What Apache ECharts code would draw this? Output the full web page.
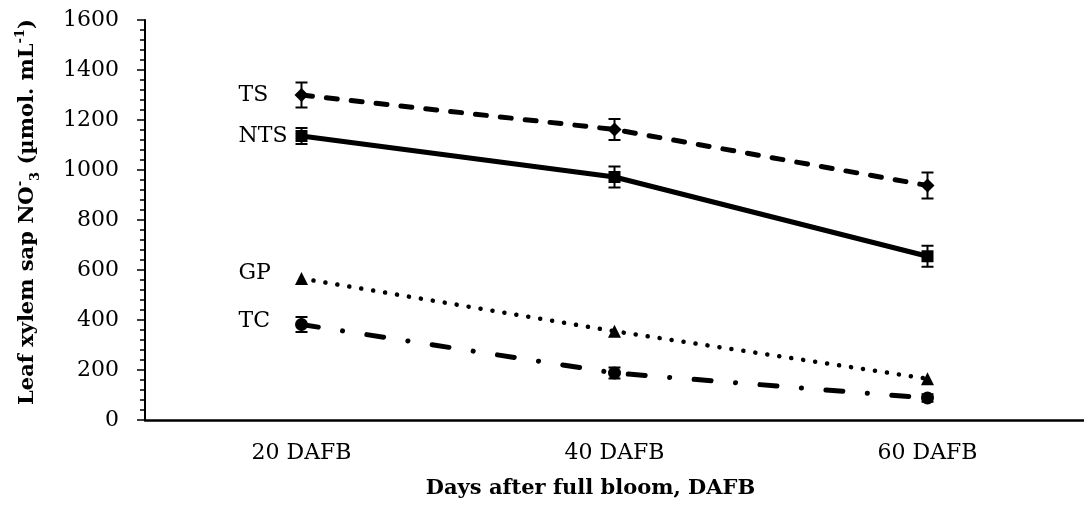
<!DOCTYPE html>
<html>
<head>
<meta charset="utf-8">
<script src="https://cdn.jsdelivr.net/npm/echarts@6/dist/echarts.min.js"></script>
<style>html,body{margin:0;padding:0;background:#fff;}#c{width:1084px;height:506px;}</style>
</head>
<body>
<div id="c"></div>
<script>
var categories = ['20 DAFB', '40 DAFB', '60 DAFB'];
var yTicks = [0, 200, 400, 600, 800, 1000, 1200, 1400, 1600];
var seriesNames = ['TS', 'NTS', 'GP', 'TC'];
var tsValues = [1300, 1162, 938];
var tsErrors = [50, 42, 52];
var ntsValues = [1136, 972, 655];
var ntsErrors = [32, 42, 42];
var gpValues = [566, 355, 165];
var tcValues = [382, 188, 88];
var tcErrors = [30, 22, 15];

var FONT = 'DejaVu Serif';
var chart = echarts.init(document.getElementById('c'), null, {renderer: 'canvas'});

function errSeries(vals, errs) {
  return {
    type: 'custom',
    silent: true,
    z: 5,
    data: vals.map(function (v, i) { return [i, v - errs[i], v + errs[i]]; }),
    renderItem: function (params, api) {
      var lo = api.coord([api.value(0), api.value(1)]);
      var hi = api.coord([api.value(0), api.value(2)]);
      var w = 6;
      var st = {stroke: '#000', lineWidth: 2};
      return {
        type: 'group',
        children: [
          {type: 'line', shape: {x1: hi[0], y1: hi[1], x2: lo[0], y2: lo[1]}, style: st},
          {type: 'line', shape: {x1: hi[0] - w, y1: hi[1], x2: hi[0] + w, y2: hi[1]}, style: st},
          {type: 'line', shape: {x1: lo[0] - w, y1: lo[1], x2: lo[0] + w, y2: lo[1]}, style: st}
        ]
      };
    }
  };
}

function lineSeries(name, vals, symbol, size, lineStyle, dy) {
  return {
    name: name,
    type: 'line',
    symbol: symbol,
    symbolSize: size,
    z: 4,
    itemStyle: {color: '#000'},
    lineStyle: lineStyle,
    data: vals.map(function (v, i) {
      if (i === 0) {
        return {
          value: v,
          label: {
            show: true,
            position: 'inside',
            align: 'left',
            verticalAlign: 'middle',
            offset: [-63, dy],
            formatter: name,
            fontFamily: FONT,
            fontSize: 22,
            color: '#000'
          }
        };
      }
      return v;
    })
  };
}

chart.setOption({
  backgroundColor: '#fff',
  animation: false,
  grid: {left: 145, right: -4, top: 20, bottom: 86},
  xAxis: {
    type: 'category',
    data: categories,
    boundaryGap: true,
    axisLine: {lineStyle: {color: '#000', width: 2.5}},
    axisTick: {show: false},
    axisLabel: {fontFamily: FONT, fontSize: 22, color: '#000', margin: 22},
    name: 'Days after full bloom, DAFB',
    nameLocation: 'middle',
    nameGap: 58,
    nameTextStyle: {fontFamily: FONT, fontSize: 21, fontWeight: 'bold', color: '#000', padding: [0, 48, 0, 0]}
  },
  yAxis: {
    type: 'value',
    min: yTicks[0],
    max: yTicks[yTicks.length - 1],
    interval: yTicks[1] - yTicks[0],
    splitLine: {show: false},
    axisLine: {show: true, lineStyle: {color: '#000', width: 2}},
    axisTick: {show: true, length: 8, lineStyle: {color: '#000', width: 1.5}},
    minorTick: {show: true, splitNumber: 5, length: 5, lineStyle: {color: '#000', width: 1.5}},
    axisLabel: {fontFamily: FONT, fontSize: 22, color: '#000', margin: 26,
      formatter: function (v) { return String(v); }},
    name: 'Leaf xylem sap NO{sup|-}{sub|3} (\u00B5mol. mL{sup|-1})',
    nameLocation: 'middle',
    nameGap: 103,
    nameTextStyle: {
      fontFamily: FONT, fontSize: 21, fontWeight: 'bold', color: '#000', lineHeight: 28,
      padding: [0, 0, 0, 16],
      rich: {
        sup: {fontFamily: FONT, fontSize: 13, fontWeight: 'bold', color: '#000', verticalAlign: 'top', lineHeight: 28},
        sub: {fontFamily: FONT, fontSize: 13, fontWeight: 'bold', color: '#000', verticalAlign: 'bottom', lineHeight: 28}
      }
    }
  },
  series: [
    lineSeries(seriesNames[0], tsValues, 'diamond', 14, {color: '#000', width: 5, type: [11, 14], cap: 'round'}, 0),
    lineSeries(seriesNames[1], ntsValues, 'rect', 12, {color: '#000', width: 5, type: 'solid'}, 0),
    lineSeries(seriesNames[2], gpValues, 'triangle', 13, {color: '#000', width: 4.5, type: [0.1, 12], cap: 'round'}, -5),
    lineSeries(seriesNames[3], tcValues, 'circle', 13, {color: '#000', width: 5, type: [17, 24.5, 0.1, 24.5], cap: 'round'}, -3),
    errSeries(tsValues, tsErrors),
    errSeries(ntsValues, ntsErrors),
    errSeries(tcValues, tcErrors)
  ]
});
</script>
</body>
</html>
